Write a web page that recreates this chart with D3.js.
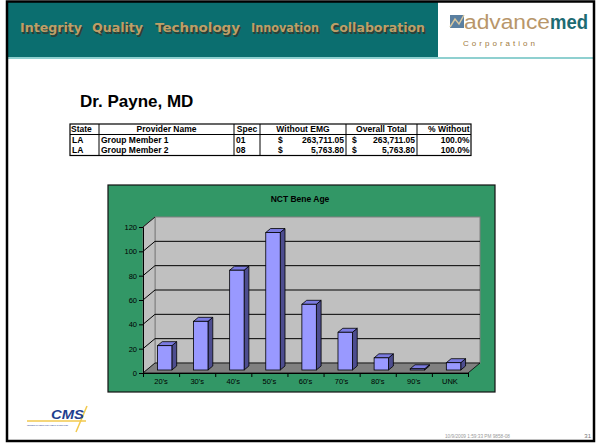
<!DOCTYPE html>
<html>
<head>
<meta charset="utf-8">
<script src="https://cdn.jsdelivr.net/npm/d3@7"></script>
<style>
  body { margin: 0; background: #fff; }
  text { font-family: "Liberation Sans", Arial, sans-serif; }
</style>
</head>
<body>
<div id="slide"></div>
<script>
// chart data
var ageGroups = ["20's", "30's", "40's", "50's", "60's", "70's", "80's", "90's", "UNK"];
var beneCounts = [20, 40, 82, 113, 54, 31, 10, 1, 6];
var yTicks = [0, 20, 40, 60, 80, 100, 120];

// table data
var tableHeaders = ["State", "Provider Name", "Spec", "Without EMG", "Overall Total", "% Without"];
var tableStates = ["LA", "LA"];
var tableProviders = ["Group Member 1", "Group Member 2"];
var tableSpecs = ["01", "08"];
var tableWithout = ["263,711.05", "5,763.80"];
var tableOverall = ["263,711.05", "5,763.80"];
var tablePct = ["100.0%", "100.0%"];

var headerWords = ["Integrity", "Quality", "Technology", "Innovation", "Collaboration"];

var svg = d3.select("#slide").append("svg").attr("width", 596).attr("height", 444);

// slide frame
svg.append("rect").attr("x", 0).attr("y", 0).attr("width", 596).attr("height", 444).attr("fill", "#fff");

// header band
svg.append("rect").attr("x", 7).attr("y", 2).attr("width", 431).attr("height", 56).attr("fill", "#0b6e6f");
svg.append("rect").attr("x", 7).attr("y", 57).attr("width", 587).attr("height", 2).attr("fill", "#8fd0d0");

var wordX = [20, 92, 155, 251, 330];
var wordW = [62, 51, 85, 68, 95];
headerWords.forEach(function (w, i) {
  svg.append("text").attr("x", wordX[i] + 1.5).attr("y", 33.5).text(w)
    .attr("font-size", "12px").attr("font-weight", "bold").attr("fill", "#2e3f36")
    .attr("textLength", wordW[i]).attr("lengthAdjust", "spacingAndGlyphs").style("font-family", "DejaVu Sans");
  svg.append("text").attr("x", wordX[i]).attr("y", 32).text(w)
    .attr("font-size", "12px").attr("font-weight", "bold").attr("fill", "#bf9e66")
    .attr("textLength", wordW[i]).attr("lengthAdjust", "spacingAndGlyphs").style("font-family", "DejaVu Sans");
});

// advancemed logo
var logo = svg.append("g");
logo.append("rect").attr("x", 450).attr("y", 15).attr("width", 14).attr("height", 13).attr("fill", "#5a7fa0");
logo.append("path").attr("d", "M450,27 L455,19 L459,24 L464,15").attr("fill", "none").attr("stroke", "#d8c8a0").attr("stroke-width", 1.5);
logo.append("text").attr("x", 464).attr("y", 28.5).text("advance")
  .attr("font-size", "20px").attr("fill", "#b8966a").attr("textLength", 86).attr("lengthAdjust", "spacingAndGlyphs");
logo.append("text").attr("x", 550).attr("y", 28.5).text("med")
  .attr("font-size", "20px").attr("font-weight", "bold").attr("fill", "#1d6b73").attr("textLength", 38).attr("lengthAdjust", "spacingAndGlyphs");
logo.append("text").attr("x", 463).attr("y", 46).text("Corporation")
  .attr("font-size", "8px").attr("fill", "#a07a3e").attr("textLength", 72).attr("lengthAdjust", "spacing");

// title
svg.append("text").attr("x", 80).attr("y", 107).text("Dr. Payne, MD")
  .attr("font-size", "17px").attr("font-weight", "bold").attr("fill", "#000");

// table
var colX = [70, 99, 234, 260, 346, 417, 471];
var rowY = [124, 134.5, 145, 155.5];
var tbl = svg.append("g").attr("font-size", "8.5px").attr("font-weight", "bold");
tbl.append("rect").attr("x", colX[0]).attr("y", rowY[0]).attr("width", colX[6] - colX[0]).attr("height", rowY[3] - rowY[0])
  .attr("fill", "none").attr("stroke", "#000").attr("stroke-width", 1.2);
tbl.append("line").attr("x1", colX[0]).attr("x2", colX[6]).attr("y1", rowY[1]).attr("y2", rowY[1]).attr("stroke", "#000");
colX.slice(1, 6).forEach(function (cx) {
  tbl.append("line").attr("x1", cx).attr("x2", cx).attr("y1", rowY[0]).attr("y2", rowY[3]).attr("stroke", "#000");
});
tbl.append("text").attr("x", colX[0] + 1).attr("y", rowY[0] + 8.3).text(tableHeaders[0]);
[1, 2, 3, 4, 5].forEach(function (c) {
  var tx = c === 5 ? colX[6] - 1.5 : (colX[c] + colX[c + 1]) / 2;
  tbl.append("text").attr("x", tx).attr("y", rowY[0] + 8.3).attr("text-anchor", c === 5 ? "end" : "middle").text(tableHeaders[c]);
});
tableStates.forEach(function (s, r) {
  var by = rowY[r + 1] + 8.3;
  tbl.append("text").attr("x", colX[0] + 2).attr("y", by).text(s);
  tbl.append("text").attr("x", colX[1] + 2).attr("y", by).text(tableProviders[r]);
  tbl.append("text").attr("x", colX[2] + 2).attr("y", by).text(tableSpecs[r]);
  tbl.append("text").attr("x", colX[3] + 18).attr("y", by).text("$");
  tbl.append("text").attr("x", colX[4] - 2).attr("y", by).attr("text-anchor", "end").text(tableWithout[r]);
  tbl.append("text").attr("x", colX[4] + 6).attr("y", by).text("$");
  tbl.append("text").attr("x", colX[5] - 2).attr("y", by).attr("text-anchor", "end").text(tableOverall[r]);
  tbl.append("text").attr("x", colX[6] - 1.5).attr("y", by).attr("text-anchor", "end").text(tablePct[r]);
});

// chart box
svg.append("rect").attr("x", 108).attr("y", 185).attr("width", 387).attr("height", 207)
  .attr("fill", "#329766").attr("stroke", "#111").attr("stroke-width", 1.2);
svg.append("text").attr("x", 300).attr("y", 202).attr("text-anchor", "middle").text("NCT Bene Age")
  .attr("font-size", "8.5px").attr("font-weight", "bold").attr("fill", "#000");

var dx = 12, dy = -10;
var x = d3.scaleBand().domain(ageGroups).range([143, 468]).paddingInner(0.6).paddingOuter(0.3);
var y = d3.scaleLinear().domain([0, 120]).range([373, 227]);
var x0 = 143, x1 = 468, yTop = y(120), yBase = y(0);

var plot = svg.append("g");
// back wall
plot.append("rect").attr("x", x0 + dx).attr("y", yTop + dy).attr("width", x1 - x0).attr("height", yBase - yTop)
  .attr("fill", "#c0c0c0").attr("stroke", "#808080");
// side wall
plot.append("path").attr("d", "M" + x0 + "," + yBase + "L" + x0 + "," + yTop + "L" + (x0 + dx) + "," + (yTop + dy) + "L" + (x0 + dx) + "," + (yBase + dy) + "Z")
  .attr("fill", "#c0c0c0").attr("stroke", "#808080");
// floor
plot.append("path").attr("d", "M" + x0 + "," + yBase + "L" + x1 + "," + yBase + "L" + (x1 + dx) + "," + (yBase + dy) + "L" + (x0 + dx) + "," + (yBase + dy) + "Z")
  .attr("fill", "#808080").attr("stroke", "#000").attr("stroke-width", 0.8);

// gridlines
yTicks.filter(function (v) { return v > 0 && v < 120; }).forEach(function (v) {
  plot.append("path").attr("d", "M" + x0 + "," + y(v) + "L" + (x0 + dx) + "," + (y(v) + dy) + "L" + (x1 + dx) + "," + (y(v) + dy))
    .attr("fill", "none").attr("stroke", "#000").attr("stroke-width", 1);
});
plot.append("path").attr("d", "M" + x0 + "," + yTop + "L" + (x0 + dx) + "," + (yTop + dy))
  .attr("fill", "none").attr("stroke", "#000").attr("stroke-width", 0.8);

// bars
var f0 = 0.3, f1 = 0.7;
var bars = plot.selectAll(".bar").data(ageGroups).enter().append("g").attr("class", "bar");
bars.each(function (c, i) {
  var g = d3.select(this);
  var bx = x(c) + dx * f0, bw = x.bandwidth();
  var ty = y(beneCounts[i]) + dy * f0, by = y(0) + dy * f0;
  var ddx = dx * (f1 - f0), ddy = dy * (f1 - f0);
  g.append("path").attr("d", "M" + (bx + bw) + "," + by + "L" + (bx + bw) + "," + ty + "L" + (bx + bw + ddx) + "," + (ty + ddy) + "L" + (bx + bw + ddx) + "," + (by + ddy) + "Z")
    .attr("fill", "#4d4d8f").attr("stroke", "#000").attr("stroke-width", 0.8);
  g.append("path").attr("d", "M" + bx + "," + ty + "L" + (bx + bw) + "," + ty + "L" + (bx + bw + ddx) + "," + (ty + ddy) + "L" + (bx + ddx) + "," + (ty + ddy) + "Z")
    .attr("fill", "#7b7be0").attr("stroke", "#000").attr("stroke-width", 0.8);
  g.append("rect").attr("x", bx).attr("y", ty).attr("width", bw).attr("height", by - ty)
    .attr("fill", "#9999ff").attr("stroke", "#000").attr("stroke-width", 0.8);
});

// y axis
var yAxis = svg.append("g").attr("transform", "translate(" + x0 + ",0)")
  .call(d3.axisLeft(y).tickValues(yTicks).tickSize(4).tickPadding(2));
yAxis.selectAll("text").attr("font-size", "7.5px").attr("fill", "#000").style("font-family", "Liberation Sans, Arial");
yAxis.selectAll("line,path").attr("stroke", "#000");

// x axis: boundary ticks plus centred labels
var xb = d3.scaleLinear().domain([0, ageGroups.length]).range([x0, x1]);
var xTickAxis = svg.append("g").attr("transform", "translate(0," + yBase + ")")
  .call(d3.axisBottom(xb).tickValues(d3.range(ageGroups.length + 1)).tickSize(4).tickFormat(""));
xTickAxis.selectAll("line,path").attr("stroke", "#000");
var xLab = d3.scaleBand().domain(ageGroups).range([x0, x1]);
var xAxis = svg.append("g").attr("transform", "translate(0," + yBase + ")")
  .call(d3.axisBottom(xLab).tickSize(0).tickPadding(6));
xAxis.select(".domain").remove();
xAxis.selectAll("text").attr("font-size", "7.5px").attr("fill", "#000").style("font-family", "Liberation Sans, Arial");

// CMS logo
var cms = svg.append("g");
cms.append("line").attr("x1", 27).attr("x2", 86).attr("y1", 421).attr("y2", 421).attr("stroke", "#f2c94c").attr("stroke-width", 1.5);
cms.append("line").attr("x1", 87).attr("x2", 76).attr("y1", 406).attr("y2", 432).attr("stroke", "#f2c94c").attr("stroke-width", 1.5);
cms.append("text").attr("x", 51).attr("y", 419).text("CMS").attr("font-size", "13px").attr("font-weight", "bold")
  .attr("font-style", "italic").attr("fill", "#1f3f8f").attr("textLength", 33).attr("lengthAdjust", "spacingAndGlyphs");
cms.append("text").attr("x", 27).attr("y", 426).text("CENTERS for MEDICARE & MEDICAID SERVICES")
  .attr("font-size", "2.5px").attr("fill", "#1f3f8f").attr("textLength", 41).attr("lengthAdjust", "spacingAndGlyphs");

// footer
svg.append("text").attr("x", 445).attr("y", 438).text("10/9/2009 1:59:33 PM 9858-08")
  .attr("font-size", "4.5px").attr("fill", "#999").attr("textLength", 65).attr("lengthAdjust", "spacingAndGlyphs");
svg.append("text").attr("x", 591).attr("y", 438).attr("text-anchor", "end").text("31")
  .attr("font-size", "6px").attr("fill", "#777");

// border
svg.append("rect").attr("x", 7).attr("y", 1.5).attr("width", 587).attr("height", 439.5)
  .attr("fill", "none").attr("stroke", "#000").attr("stroke-width", 2.5);
</script>
</body>
</html>
